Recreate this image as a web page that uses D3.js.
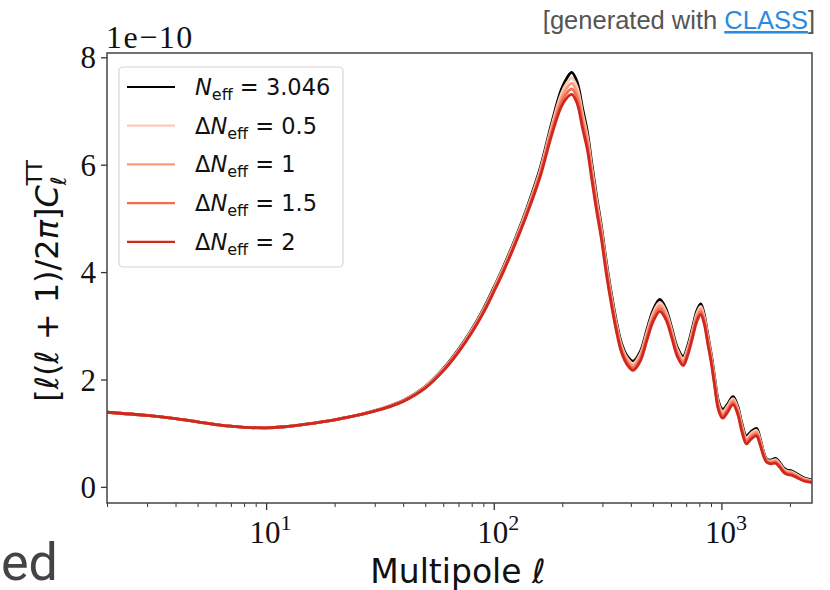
<!DOCTYPE html>
<html>
<head>
<meta charset="utf-8">
<script src="https://cdn.jsdelivr.net/npm/d3@7/dist/d3.min.js"></script>
<style>
  body { margin: 0; background: #fff; }
  svg { display: block; }
</style>
</head>
<body>
<svg id="chart" width="830" height="590"></svg>
<script>
// multipoles and C_l^TT spectra (units of 1e-10)
const ells = [2, 3, 4, 5, 6, 7, 8, 10, 12, 15, 20, 25, 30, 35, 40, 50, 60, 70, 80, 90, 100,
  110, 125, 140, 160, 179, 198, 210, 220, 232, 246, 258, 268, 282, 297, 312, 328, 345, 363,
  385, 409, 440, 470, 500, 536, 570, 605, 640, 679, 710, 745, 780, 811, 840, 870, 904, 935,
  967, 1000, 1016, 1060, 1125, 1180, 1230, 1288, 1350, 1425, 1480, 1530, 1580, 1650, 1730,
  1800, 1880, 1950, 2030, 2150, 2300, 2500];

const clBase = [1.39, 1.33, 1.27, 1.21, 1.16, 1.13, 1.11, 1.10, 1.12, 1.17, 1.25, 1.33, 1.42,
  1.51, 1.61, 1.87, 2.20, 2.56, 2.93, 3.31, 3.71, 4.09, 4.65, 5.20, 5.94, 6.75, 7.40, 7.62, 7.72,
  7.55, 7.03, 6.60, 6.10, 5.45, 4.86, 4.20, 3.62, 3.10, 2.69, 2.44, 2.34, 2.52, 2.92, 3.28,
  3.49, 3.32, 2.96, 2.60, 2.43, 2.62, 2.95, 3.28, 3.41, 3.22, 2.85, 2.45, 2.02, 1.62, 1.46,
  1.44, 1.53, 1.68, 1.50, 1.18, 0.95, 1.03, 1.09, 0.90, 0.66, 0.52, 0.50, 0.53, 0.46, 0.35,
  0.31, 0.30, 0.24, 0.17, 0.13];

const clD05 = [1.39, 1.33, 1.27, 1.21, 1.16, 1.13, 1.11, 1.10, 1.12, 1.17, 1.25, 1.33, 1.418,
  1.506, 1.605, 1.863, 2.19, 2.548, 2.915, 3.293, 3.69, 4.068, 4.625, 5.17, 5.90, 6.695, 7.32, 7.528,
  7.618, 7.45, 6.938, 6.518, 6.025, 5.383, 4.80, 4.145, 3.57, 3.055, 2.648, 2.40, 2.298, 2.475,
  2.87, 3.228, 3.435, 3.27, 2.915, 2.558, 2.388, 2.575, 2.903, 3.23, 3.36, 3.175, 2.808, 2.41,
  1.98, 1.58, 1.42, 1.40, 1.493, 1.643, 1.463, 1.143, 0.913, 0.995, 1.055, 0.87, 0.64, 0.505,
  0.483, 0.508, 0.438, 0.33, 0.29, 0.28, 0.223, 0.155, 0.118];

const clD1 = [1.39, 1.33, 1.27, 1.21, 1.16, 1.13, 1.11, 1.10, 1.12, 1.17, 1.25, 1.33, 1.415,
  1.503, 1.60, 1.855, 2.18, 2.535, 2.90, 3.275, 3.67, 4.045, 4.60, 5.14, 5.86, 6.64, 7.24, 7.435,
  7.515, 7.35, 6.845, 6.435, 5.95, 5.315, 4.74, 4.09, 3.52, 3.01, 2.605, 2.36, 2.255, 2.43,
  2.82, 3.175, 3.38, 3.22, 2.87, 2.515, 2.345, 2.53, 2.855, 3.18, 3.31, 3.13, 2.765, 2.37,
  1.94, 1.54, 1.38, 1.36, 1.455, 1.605, 1.425, 1.105, 0.875, 0.96, 1.02, 0.84, 0.62, 0.49,
  0.465, 0.485, 0.415, 0.31, 0.27, 0.26, 0.205, 0.14, 0.105];

const clD15 = [1.39, 1.33, 1.27, 1.21, 1.16, 1.13, 1.11, 1.10, 1.12, 1.17, 1.25, 1.33, 1.413,
  1.499, 1.595, 1.848, 2.17, 2.523, 2.885, 3.258, 3.65, 4.023, 4.575, 5.11, 5.82, 6.585, 7.16, 7.343,
  7.413, 7.25, 6.753, 6.353, 5.875, 5.248, 4.68, 4.035, 3.47, 2.965, 2.563, 2.32, 2.213, 2.385,
  2.77, 3.123, 3.325, 3.17, 2.825, 2.473, 2.303, 2.485, 2.808, 3.13, 3.26, 3.085, 2.723, 2.33,
  1.90, 1.50, 1.34, 1.32, 1.418, 1.568, 1.388, 1.068, 0.838, 0.925, 0.985, 0.81, 0.60, 0.475,
  0.448, 0.463, 0.393, 0.29, 0.25, 0.24, 0.188, 0.125, 0.093];

const clD2 = [1.39, 1.33, 1.27, 1.21, 1.16, 1.13, 1.11, 1.10, 1.12, 1.17, 1.25, 1.33, 1.41,
  1.495, 1.59, 1.84, 2.16, 2.51, 2.87, 3.24, 3.63, 4.00, 4.55, 5.08, 5.78, 6.53, 7.08, 7.25, 7.31,
  7.15, 6.66, 6.27, 5.80, 5.18, 4.62, 3.98, 3.42, 2.92, 2.52, 2.28, 2.17, 2.34, 2.72, 3.07,
  3.27, 3.12, 2.78, 2.43, 2.26, 2.44, 2.76, 3.08, 3.21, 3.04, 2.68, 2.29, 1.86, 1.46, 1.30,
  1.28, 1.38, 1.53, 1.35, 1.03, 0.80, 0.89, 0.95, 0.78, 0.58, 0.46, 0.43, 0.44, 0.37, 0.27,
  0.23, 0.22, 0.17, 0.11, 0.08];

const seriesNames = ["3.046", "0.5", "1", "1.5", "2"];
const seriesColors = ["#000000", "#fcc9b5", "#fb9b7e", "#f36c53", "#d0281f"];
const yTicks = [0, 2, 4, 6, 8];
const xTicks = [10, 100, 1000];
const xTickExp = ["1", "2", "3"];

const series = [clBase, clD05, clD1, clD15, clD2].map((vals, i) => ({
  name: seriesNames[i],
  color: seriesColors[i],
  points: ells.map((l, j) => [l, vals[j]])
}));

const svg = d3.select("#chart");
const plotLeft = 107, plotRight = 812, plotTop = 53, plotBottom = 503;
const serif = "'Liberation Serif', 'Times New Roman', serif";
const sans = "'DejaVu Sans', sans-serif";

const x = d3.scaleLog().domain([2, 2500]).range([plotLeft, plotRight]);
const y = d3.scaleLinear().domain([-0.3, 8.08]).range([plotBottom, plotTop]);

// header text
const head = svg.append("text")
  .attr("x", 815).attr("y", 29)
  .attr("text-anchor", "end")
  .style("font-family", "'Liberation Sans', Arial, sans-serif")
  .style("font-size", "25.5px")
  .attr("fill", "#555");
head.append("tspan").text("[generated with ");
head.append("tspan").text("CLASS").attr("fill", "#2a8be0").style("text-decoration", "underline");
head.append("tspan").text("]");

svg.append("text")
  .attr("x", 1).attr("y", 580)
  .style("font-family", "Roboto, 'Liberation Sans', sans-serif")
  .style("font-size", "52px")
  .attr("fill", "#444")
  .text("ed");

// clip
svg.append("clipPath").attr("id", "clip")
  .append("rect")
  .attr("x", plotLeft).attr("y", plotTop)
  .attr("width", plotRight - plotLeft).attr("height", plotBottom - plotTop);

const line = d3.line()
  .x((d) => x(d[0]))
  .y((d) => y(d[1]))
  .curve(d3.curveCatmullRom.alpha(0.5));

svg.append("g")
  .attr("clip-path", "url(#clip)")
  .selectAll("path")
  .data(series)
  .enter()
  .append("path")
  .attr("d", (d) => line(d.points))
  .attr("fill", "none")
  .attr("stroke", (d) => d.color)
  .attr("stroke-width", 2.8)
  .attr("stroke-linejoin", "round");

// axes
const yAxis = d3.axisLeft(y).tickValues(yTicks).tickSize(6).tickPadding(5);
const gy = svg.append("g")
  .attr("transform", `translate(${plotLeft},0)`)
  .call(yAxis);
gy.select(".domain").remove();
gy.selectAll("line").attr("stroke", "#333").attr("stroke-width", 1.3);
gy.selectAll("text")
  .style("font-family", serif)
  .style("font-size", "31px")
  .attr("fill", "#111")
  .attr("dy", "0.34em");

const minorTicks = x.ticks().filter((v) => xTicks.indexOf(v) < 0);
const gxMinor = svg.append("g")
  .attr("transform", `translate(0,${plotBottom})`)
  .call(d3.axisBottom(x).tickValues(minorTicks).tickSize(4).tickFormat(""));
gxMinor.select(".domain").remove();
gxMinor.selectAll("line").attr("stroke", "#333").attr("stroke-width", 1);

const gx = svg.append("g")
  .attr("transform", `translate(0,${plotBottom})`)
  .call(d3.axisBottom(x).tickValues(xTicks).tickSize(7).tickFormat(""));
gx.select(".domain").remove();
gx.selectAll("line").attr("stroke", "#333").attr("stroke-width", 1.3);
gx.selectAll(".tick").each(function (d, i) {
  const t = d3.select(this).append("text")
    .attr("y", 40)
    .attr("x", 4)
    .attr("text-anchor", "middle")
    .attr("fill", "#111")
    .style("font-family", serif)
    .style("font-size", "31px");
  t.append("tspan").text("10");
  t.append("tspan").text(xTickExp[i]).attr("dy", -13).style("font-size", "22px");
});

// frame
svg.append("rect")
  .attr("x", plotLeft).attr("y", plotTop)
  .attr("width", plotRight - plotLeft).attr("height", plotBottom - plotTop)
  .attr("fill", "none")
  .attr("stroke", "#444")
  .attr("stroke-width", 1.5);

// offset text
svg.append("text")
  .attr("x", 106).attr("y", 48)
  .style("font-family", serif)
  .style("font-size", "32px")
  .style("letter-spacing", "1.5px")
  .attr("fill", "#111")
  .text("1e\u221210");

// x label
const xl = svg.append("text")
  .attr("x", 458).attr("y", 583)
  .attr("text-anchor", "middle")
  .style("font-family", sans)
  .style("font-size", "33px")
  .attr("fill", "#111");
xl.append("tspan").text("Multipole  ");
xl.append("tspan").text("\u2113").style("font-style", "italic");

// y label
const yl = svg.append("text")
  .attr("transform", "translate(58,281) rotate(-90)")
  .attr("text-anchor", "middle")
  .style("font-family", sans)
  .style("font-size", "32px")
  .attr("fill", "#111");
yl.append("tspan").text("[");
yl.append("tspan").text("\u2113").style("font-style", "italic");
yl.append("tspan").text("(");
yl.append("tspan").text("\u2113").style("font-style", "italic");
yl.append("tspan").text(" + 1)/2");
yl.append("tspan").text("\u03c0").style("font-style", "italic");
yl.append("tspan").text("]");
yl.append("tspan").text("C").style("font-style", "italic");
yl.append("tspan").text("\u2113").style("font-style", "italic").style("font-size", "21px").attr("dy", 8);
yl.append("tspan").text("TT").style("font-size", "21px").attr("dx", -9).attr("dy", -24);

// legend
const legend = svg.append("g");
legend.append("rect")
  .attr("x", 119).attr("y", 67)
  .attr("width", 224).attr("height", 200)
  .attr("rx", 4)
  .attr("fill", "#fff").attr("fill-opacity", 0.85)
  .attr("stroke", "#d6d6d6").attr("stroke-width", 1.2);

const rows = legend.selectAll(".row")
  .data(series)
  .enter()
  .append("g")
  .attr("class", "row")
  .attr("transform", (d, i) => `translate(0,${87 + i * 38.7})`);
rows.append("line")
  .attr("x1", 127).attr("x2", 175)
  .attr("stroke", (d) => d.color)
  .attr("stroke-width", 2.2);
rows.each(function (d, i) {
  const t = d3.select(this).append("text")
    .attr("x", 195).attr("y", 8)
    .style("font-family", sans)
    .style("font-size", "22.5px")
    .attr("fill", "#111");
  if (i > 0) t.append("tspan").text("\u0394");
  t.append("tspan").text("N").style("font-style", "italic");
  t.append("tspan").text("eff").style("font-size", "16px").attr("dy", 5);
  t.append("tspan").text(" = " + d.name).attr("dy", -5);
});
</script>
</body>
</html>
